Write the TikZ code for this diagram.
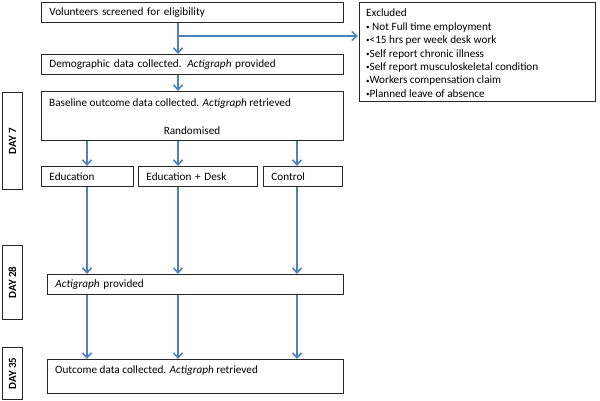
\documentclass[tikz,border=0pt]{standalone}
\usepackage{fontspec}
\setmainfont{Carlito}
\usetikzlibrary{arrows.meta,calc}
\definecolor{arrblue}{RGB}{79,129,189}
\definecolor{boxline}{RGB}{40,40,40}
\newcommand{\smbul}{{\fontsize{7}{7}\selectfont\raisebox{0.8pt}{\textbullet}}}
\begin{document}
\begin{tikzpicture}[x=1pt,y=-1pt,
  font=\fontsize{11.2}{13.4}\selectfont,
  box/.style={draw=boxline,line width=0.9pt,fill=white,inner sep=0pt,anchor=north west},
  lbox/.style={box,align=left,inner xsep=8pt},
  txt/.style={inner sep=0pt,anchor=west},
  daybox/.style={box,font=\fontsize{11}{13}\selectfont\bfseries},
  arr/.style={draw=arrblue,line width=2.2pt,-{Straight Barb[length=5pt,width=9pt,line width=1.6pt]}}
]
\useasboundingbox (0,0) rectangle (600,401);
\fill[white] (0,0) rectangle (600,401);

% column coordinates
\coordinate (colA) at (87,0);
\coordinate (colB) at (178,0);
\coordinate (colC) at (297,0);

% top boxes
\node[lbox,minimum width=302pt,minimum height=20pt,text width=286pt] (b1) at (41,2) {Volunteers screened for eligibility};
\node[lbox,minimum width=302pt,minimum height=20pt,text width=286pt] (b2) at (41,54) {Demographic data collected. \textit{Actigraph} provided};
\node[box,minimum width=302pt,minimum height=49pt] (b3) at (41,91) {};
\node[txt] (b3t) at (49,104) {Baseline outcome data collected. \textit{Actigraph} retrieved};
\node[inner sep=0pt] (rand) at (192,131) {Randomised};

% excluded box
\node[box,minimum width=236pt,minimum height=99pt] (excl) at (359,2) {};
\node[inner sep=0pt,anchor=north west,align=left] (exclt) at (366,9) {Excluded\\
\smbul\ Not Full time employment\\
\smbul{}<15 hrs per week desk work\\
\smbul{}Self report chronic illness\\
\smbul{}Self report musculoskeletal condition\\
\smbul{}Workers compensation claim\\
\smbul{}Planned leave of absence};

% group boxes
\node[lbox,minimum width=92pt,minimum height=20pt,text width=76pt] (ga) at (41,166) {Education};
\node[lbox,minimum width=119pt,minimum height=20pt,text width=103pt] (gb) at (138,166) {Education + Desk};
\node[lbox,minimum width=79pt,minimum height=20pt,text width=63pt] (gc) at (263,166) {Control};

% lower boxes
\node[lbox,minimum width=296pt,minimum height=20pt,text width=280pt] (b4) at (47,274) {\textit{Actigraph} provided};
\node[box,minimum width=296pt,minimum height=34pt] (b5) at (47,359) {};
\node[txt] (b5t) at (55,371) {Outcome data collected. \textit{Actigraph} retrieved};

% day boxes
\node[daybox,minimum width=20pt,minimum height=97pt] (d7) at (2,92) {};
\node[rotate=90,inner sep=0pt,font=\fontsize{11}{13}\selectfont\bfseries] (d7t) at (d7.center) {DAY 7};
\node[daybox,minimum width=20pt,minimum height=74pt] (d28) at (2,245) {};
\node[rotate=90,inner sep=0pt,font=\fontsize{11}{13}\selectfont\bfseries] (d28t) at (d28.center) {DAY 28};
\node[daybox,minimum width=20pt,minimum height=52pt] (d35) at (2,347) {};
\node[rotate=90,inner sep=0pt,font=\fontsize{11}{13}\selectfont\bfseries] (d35t) at (d35.center) {DAY 35};

% connectors
\coordinate (br) at (178,36);
\draw[arr] (b1.south -| colB) -- (b2.north -| colB);
\draw[arr] (br) -- ([xshift=-1pt]excl.west |- br);
\draw[arr] (b2.south -| colB) -- (b3.north -| colB);
\draw[arr] (b3.south -| colA) -- (ga.north -| colA);
\draw[arr] (b3.south -| colB) -- (gb.north -| colB);
\draw[arr] (b3.south -| colC) -- (gc.north -| colC);
\draw[arr] (ga.south -| colA) -- (b4.north -| colA);
\draw[arr] (gb.south -| colB) -- (b4.north -| colB);
\draw[arr] (gc.south -| colC) -- (b4.north -| colC);
\draw[arr] (b4.south -| colA) -- (b5.north -| colA);
\draw[arr] (b4.south -| colB) -- (b5.north -| colB);
\draw[arr] (b4.south -| colC) -- (b5.north -| colC);
\end{tikzpicture}
\end{document}
